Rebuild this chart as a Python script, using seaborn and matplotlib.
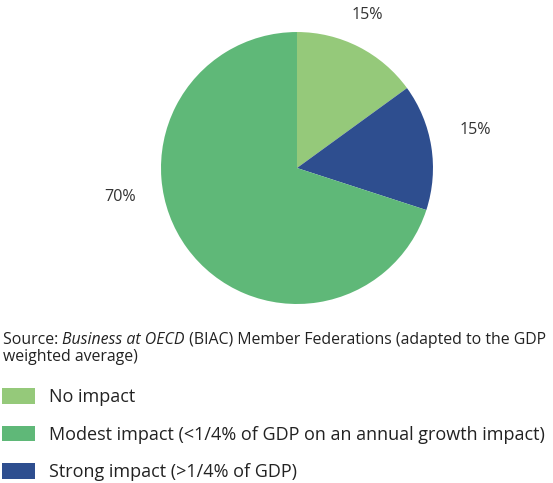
import matplotlib
matplotlib.use("Agg")
import matplotlib.pyplot as plt
import seaborn as sns

sns.set_theme(style="white")
plt.rcParams['font.family'] = ['Open Sans', 'DejaVu Sans']

categories = ["No impact",
              "Modest impact (<1/4% of GDP on an annual growth impact)",
              "Strong impact (>1/4% of GDP)"]
values = [15, 70, 15]
pct_labels = ["15%", "70%", "15%"]
colors = ["#95C97A", "#5FB878", "#2E4E8F"]

# draw order clockwise from top: No impact, Strong, Modest
order = [0, 2, 1]

fig = plt.figure(figsize=(5.53, 4.83), dpi=100)
ax = fig.add_axes([0.2911, 0.3706, 0.4919, 0.5631])
wedges, _ = ax.pie([values[i] for i in order], colors=[colors[i] for i in order],
                   startangle=90, counterclock=False, radius=1.0,
                   wedgeprops=dict(linewidth=0))
ax.set_xlim(-1, 1)
ax.set_ylim(-1, 1)
ax.set_aspect("equal")
ax.axis("off")

label_pos = {0: (0.515, 1.125), 2: (1.31, 0.28), 1: (-1.30, -0.21)}
for i in order:
    x, y = label_pos[i]
    ax.text(x, y, pct_labels[i], ha="center", va="center", fontsize=11.6,
            color="#333333", clip_on=False)

fig.canvas.draw()
renderer = fig.canvas.get_renderer()
src = [("Source: ", "normal"), ("Business at OECD", "italic"),
       (" (BIAC) Member Federations (adapted to the GDP", "normal")]
xpix = 3
for s, st in src:
    t = fig.text(xpix / 553, 1 - 340 / 483, s, fontsize=11.4, style=st,
                 color="#222222", va="center")
    bb = t.get_window_extent(renderer=renderer)
    xpix += bb.width
fig.text(3 / 553, 1 - 357 / 483, "weighted average)", fontsize=11.4,
         color="#222222", va="center")

handles = [wedges[order.index(i)] for i in range(3)]
leg = fig.legend(handles, categories, loc="upper left",
                 bbox_to_anchor=(2 / 553, 1 - 388 / 483), frameon=False,
                 fontsize=13, handlelength=1.8, handleheight=0.95,
                 handletextpad=0.8, labelspacing=1.08, borderpad=0,
                 borderaxespad=0)
for t in leg.get_texts():
    t.set_color("#222222")

fig.savefig("out.png", dpi=100)
